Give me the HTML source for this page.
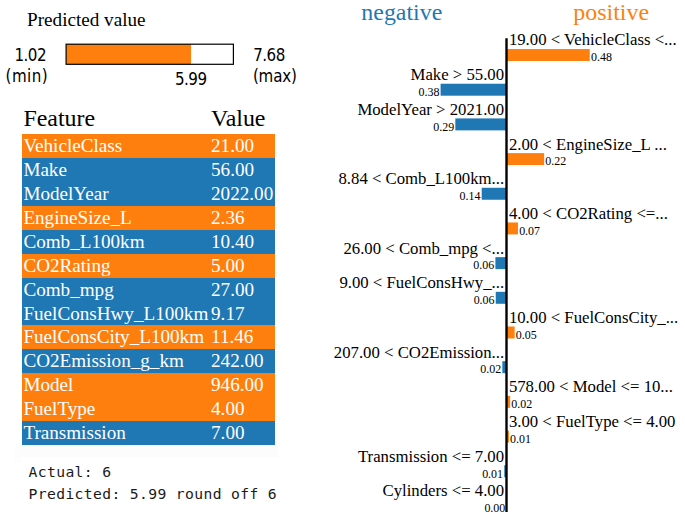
<!DOCTYPE html>
<html lang="en">
<head>
<meta charset="utf-8">
<title>LIME explanation</title>
<style>
html,body{margin:0;padding:0;background:#fff;}
body{width:685px;height:515px;position:relative;overflow:hidden;font-family:"Liberation Serif","Times New Roman",serif;color:#000;}
svg.chart{position:absolute;left:0;top:0;width:685px;height:515px;font-family:"Liberation Serif","Times New Roman",serif;}
.scroll{position:absolute;left:15px;top:445.2px;width:262.6px;height:12.3px;background:#fcfcfc;}
.scrollbtn{position:absolute;left:15px;top:443px;width:7.2px;height:20px;background:#fdfdfd;}
table.feat{position:absolute;left:22.2px;top:103.70px;border-collapse:collapse;border-spacing:0;color:#fff;font-size:19.14px;}
table.feat td{padding:0 1.196px 0.4px 1.196px;height:23.52px;line-height:23.52px;white-space:nowrap;box-sizing:content-box;}
table.feat tr.h td{color:#000;font-size:23.92px;height:29.90px;line-height:29.90px;padding:0.6px 1.196px 0 1.196px;}
table.feat td:first-child{padding-right:1.60px;}
table.feat td:last-child{padding-right:1.80px;}
table.feat tr.o{background:#ff7f0e;}
table.feat tr.b{background:#1f77b4;}
pre.out{position:absolute;left:28.6px;top:461.2px;margin:0;font-family:"DejaVu Sans Mono","Liberation Mono",monospace;font-size:14.7px;letter-spacing:0.36px;line-height:21.4px;color:#1a1a1a;}
</style>
</head>
<body>
<div class="scroll"></div><div class="scrollbtn"></div>
<svg class="chart" width="685" height="515" viewBox="0 0 685 515">
<g class="predicted">
<text x="27.1" y="25.6" font-size="19.14">Predicted value</text>
<rect x="66.1" y="44.2" width="124.95" height="20.10" fill="#ff7f0e"/>
<rect x="66.1" y="44.2" width="167.3" height="20.10" fill="none" stroke="#000" stroke-width="1.20"/>
<text font-family="DejaVu Sans Condensed, Liberation Sans, sans-serif" font-size="16.8" x="46.6" y="61.4" text-anchor="end" textLength="32.2">1.02</text>
<text font-family="DejaVu Sans Condensed, Liberation Sans, sans-serif" font-size="16.8" x="47.6" y="81.9" text-anchor="end" textLength="42">(min)</text>
<text font-family="DejaVu Sans Condensed, Liberation Sans, sans-serif" font-size="16.8" x="191.05" y="84.7" text-anchor="middle" textLength="32">5.99</text>
<text font-family="DejaVu Sans Condensed, Liberation Sans, sans-serif" font-size="16.8" x="253.3" y="61.2" textLength="32">7.68</text>
<text font-family="DejaVu Sans Condensed, Liberation Sans, sans-serif" font-size="16.8" x="252.9" y="81.9" textLength="44">(max)</text>
</g>
<g class="explanation">
<text x="401.85" y="20.34" font-size="23.92" text-anchor="middle" fill="#1f77b4">negative</text>
<text x="611.15" y="20.34" font-size="23.92" text-anchor="middle" fill="#ff7f0e">positive</text>
<text x="508.89" y="45.46" font-size="16.74" text-anchor="start">19.00 &lt; VehicleClass &lt;...</text>
<rect x="506.5" y="49.04" width="83.24" height="11.96" fill="#ff7f0e"/>
<text x="590.94" y="61.30" font-size="11.96" text-anchor="start">0.48</text>
<text x="504.11" y="80.14" font-size="16.74" text-anchor="end">Make &gt; 55.00</text>
<rect x="440.6" y="83.73" width="65.90" height="11.96" fill="#1f77b4"/>
<text x="439.4" y="95.99" font-size="11.96" text-anchor="end">0.38</text>
<text x="504.11" y="114.82" font-size="16.74" text-anchor="end">ModelYear &gt; 2021.00</text>
<rect x="455.34" y="118.41" width="51.16" height="11.96" fill="#1f77b4"/>
<text x="454.15" y="130.67" font-size="11.96" text-anchor="end">0.29</text>
<text x="508.89" y="149.51" font-size="16.74" text-anchor="start">2.00 &lt; EngineSize_L ...</text>
<rect x="506.5" y="153.1" width="37.63" height="11.96" fill="#ff7f0e"/>
<text x="545.33" y="165.36" font-size="11.96" text-anchor="start">0.22</text>
<text x="504.11" y="184.19" font-size="16.74" text-anchor="end">8.84 &lt; Comb_L100km...</text>
<rect x="481.7" y="187.78" width="24.80" height="11.96" fill="#1f77b4"/>
<text x="480.5" y="200.04" font-size="11.96" text-anchor="end">0.14</text>
<text x="508.89" y="218.88" font-size="16.74" text-anchor="start">4.00 &lt; CO2Rating &lt;=...</text>
<rect x="506.5" y="222.46" width="11.45" height="11.96" fill="#ff7f0e"/>
<text x="519.14" y="234.72" font-size="11.96" text-anchor="start">0.07</text>
<text x="504.11" y="253.56" font-size="16.74" text-anchor="end">26.00 &lt; Comb_mpg &lt;...</text>
<rect x="495.4" y="257.15" width="11.10" height="11.96" fill="#1f77b4"/>
<text x="494.21" y="269.41" font-size="11.96" text-anchor="end">0.06</text>
<text x="504.11" y="288.24" font-size="16.74" text-anchor="end">9.00 &lt; FuelConsHwy_...</text>
<rect x="495.75" y="291.83" width="10.75" height="11.96" fill="#1f77b4"/>
<text x="494.55" y="304.09" font-size="11.96" text-anchor="end">0.06</text>
<text x="508.89" y="322.93" font-size="16.74" text-anchor="start">10.00 &lt; FuelConsCity_...</text>
<rect x="506.5" y="326.52" width="8.15" height="11.96" fill="#ff7f0e"/>
<text x="515.85" y="338.78" font-size="11.96" text-anchor="start">0.05</text>
<text x="504.11" y="357.61" font-size="16.74" text-anchor="end">207.00 &lt; CO2Emission...</text>
<rect x="502.34" y="361.2" width="4.16" height="11.96" fill="#1f77b4"/>
<text x="501.14" y="373.46" font-size="11.96" text-anchor="end">0.02</text>
<text x="508.89" y="392.3" font-size="16.74" text-anchor="start">578.00 &lt; Model &lt;= 10...</text>
<rect x="506.5" y="395.88" width="3.64" height="11.96" fill="#ff7f0e"/>
<text x="511.34" y="408.14" font-size="11.96" text-anchor="start">0.02</text>
<text x="508.89" y="426.98" font-size="16.74" text-anchor="start">3.00 &lt; FuelType &lt;= 4.00</text>
<rect x="506.5" y="430.57" width="2.43" height="11.96" fill="#ff7f0e"/>
<text x="510.12" y="442.83" font-size="11.96" text-anchor="start">0.01</text>
<text x="504.11" y="461.66" font-size="16.74" text-anchor="end">Transmission &lt;= 7.00</text>
<rect x="504.25" y="465.25" width="2.25" height="11.96" fill="#1f77b4"/>
<text x="503.05" y="477.51" font-size="11.96" text-anchor="end">0.01</text>
<text x="504.11" y="496.35" font-size="16.74" text-anchor="end">Cylinders &lt;= 4.00</text>
<text x="505.3" y="512.20" font-size="11.96" text-anchor="end">0.00</text>
<line x1="506.5" x2="506.5" y1="38.28" y2="511.9" stroke="#000" stroke-width="2.39"/>
</g>
</svg>
<table class="feat">
<tr class="h"><td>Feature</td><td>Value</td></tr>
<tr class="o"><td>VehicleClass</td><td>21.00</td></tr>
<tr class="b"><td>Make</td><td>56.00</td></tr>
<tr class="b"><td>ModelYear</td><td>2022.00</td></tr>
<tr class="o"><td>EngineSize_L</td><td>2.36</td></tr>
<tr class="b"><td>Comb_L100km</td><td>10.40</td></tr>
<tr class="o"><td>CO2Rating</td><td>5.00</td></tr>
<tr class="b"><td>Comb_mpg</td><td>27.00</td></tr>
<tr class="b"><td>FuelConsHwy_L100km</td><td>9.17</td></tr>
<tr class="o"><td>FuelConsCity_L100km</td><td>11.46</td></tr>
<tr class="b"><td>CO2Emission_g_km</td><td>242.00</td></tr>
<tr class="o"><td>Model</td><td>946.00</td></tr>
<tr class="o"><td>FuelType</td><td>4.00</td></tr>
<tr class="b"><td>Transmission</td><td>7.00</td></tr>
</table>
<pre class="out">Actual: 6
Predicted: 5.99 round off 6</pre>
</body>
</html>
